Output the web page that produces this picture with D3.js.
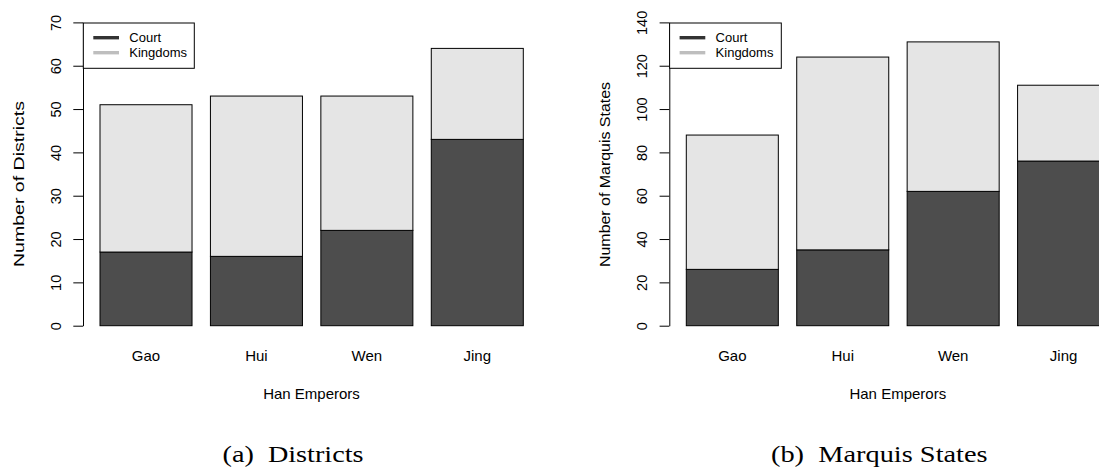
<!DOCTYPE html>
<html>
<head>
<meta charset="utf-8">
<script src="https://cdn.jsdelivr.net/npm/d3@7"></script>
<style>
  html, body { margin: 0; padding: 0; background: #fff; }
  svg { display: block; }
</style>
</head>
<body>
<script>
const emperors = ['Gao', 'Hui', 'Wen', 'Jing'];
const seriesKeys = ['court', 'kingdoms'];
const legendLabels = ['Court', 'Kingdoms'];

const districtsCourt = [17, 16, 22, 43];
const districtsKingdoms = [34, 37, 31, 21];
const districtTicks = [0, 10, 20, 30, 40, 50, 60, 70];

const marquisCourt = [26, 35, 62, 76];
const marquisKingdoms = [62, 89, 69, 35];
const marquisTicks = [0, 20, 40, 60, 80, 100, 120, 140];

const W = 1099, H = 467;
const fills = ['#4d4d4d', '#e5e5e5'];
const legendColors = ['#333333', '#bebebe'];
const sans = 'Liberation Sans, Arial, Helvetica, sans-serif';
const serif = 'Liberation Serif, Times New Roman, serif';

const dims = { plotW: 457, top: 22.4, base: 325.7 };

const svg = d3.select('body').append('svg')
  .attr('width', W)
  .attr('height', H)
  .attr('viewBox', [0, 0, W, H]);

svg.append('rect').attr('width', W).attr('height', H).attr('fill', '#fff');

function drawPanel(cfg) {
  const g = svg.append('g').attr('transform', `translate(${cfg.left},0)`);

  const x = d3.scaleBand()
    .domain(emperors)
    .range([17, 440.3])
    .paddingInner(1 / 6)
    .paddingOuter(0);

  const y = d3.scaleLinear()
    .domain([0, d3.max(cfg.ticks)])
    .range([dims.base, dims.top]);

  const rows = emperors.map((e, i) => ({ emperor: e, court: cfg.court[i], kingdoms: cfg.kingdoms[i] }));
  const stacked = d3.stack().keys(seriesKeys)(rows);

  g.selectAll('g.layer')
    .data(stacked)
    .join('g')
      .attr('class', 'layer')
      .attr('fill', (d, i) => fills[i])
    .selectAll('rect')
    .data(d => d)
    .join('rect')
      .attr('x', d => x(d.data.emperor))
      .attr('y', d => y(d[1]))
      .attr('width', x.bandwidth())
      .attr('height', d => y(d[0]) - y(d[1]))
      .attr('stroke', '#000')
      .attr('stroke-width', 1);

  // y axis, R style with rotated labels
  g.append('g')
    .call(d3.axisLeft(y).tickValues(cfg.ticks).tickSize(9.7).tickSizeOuter(0))
    .attr('font-family', sans)
    .attr('font-size', 14.5)
    .call(a => {
      a.select('.domain').attr('stroke', '#000');
      a.selectAll('.tick line').attr('stroke', '#000');
      a.selectAll('.tick text')
        .attr('x', 0)
        .attr('y', -22)
        .attr('dy', 0)
        .attr('fill', '#000')
        .attr('text-anchor', 'middle')
        .attr('transform', 'rotate(-90)');
    });

  // category names under bars
  g.append('g')
    .attr('transform', `translate(0,${dims.base})`)
    .call(d3.axisBottom(x).tickSize(0))
    .attr('font-family', sans)
    .attr('font-size', 15)
    .call(a => {
      a.select('.domain').remove();
      a.selectAll('.tick text').attr('y', 35.3).attr('dy', 0).attr('fill', '#000');
    });

  g.append('text')
    .attr('x', dims.plotW / 2)
    .attr('y', 399)
    .attr('text-anchor', 'middle')
    .attr('font-family', sans)
    .attr('font-size', 15)
    .text('Han Emperors');

  g.append('text')
    .attr('transform', `translate(-59.5,267) rotate(-90)`)
    .attr('text-anchor', 'start')
    .attr('font-family', sans)
    .attr('font-size', 15.5)
    .attr('textLength', cfg.titleLen)
    .attr('lengthAdjust', 'spacingAndGlyphs')
    .text(cfg.ylab);

  // legend, top left of plot region
  const lg = g.append('g').attr('transform', `translate(0.3,${dims.top + 0.6})`);
  lg.append('rect')
    .attr('width', cfg.legendW)
    .attr('height', 45.3)
    .attr('fill', '#fff')
    .attr('stroke', '#000');
  const item = lg.selectAll('g.item')
    .data(legendLabels)
    .join('g')
      .attr('class', 'item')
      .attr('transform', (d, i) => `translate(0,${14.7 + i * 15})`);
  item.append('line')
    .attr('x1', 10).attr('x2', 35.7)
    .attr('stroke', (d, i) => legendColors[i])
    .attr('stroke-width', 3.4);
  item.append('text')
    .attr('x', 46)
    .attr('dy', '0.36em')
    .attr('font-family', sans)
    .attr('font-size', 13)
    .text(d => d);

  // sub-caption
  g.append('text')
    .attr('x', 210)
    .attr('y', 462)
    .attr('text-anchor', 'middle')
    .attr('font-family', serif)
    .attr('font-size', 23)
    .attr('textLength', cfg.capLen)
    .attr('lengthAdjust', 'spacingAndGlyphs')
    .style('white-space', 'pre')
    .text(cfg.caption);
}

drawPanel({
  left: 83,
  court: districtsCourt,
  kingdoms: districtsKingdoms,
  ticks: districtTicks,
  ylab: 'Number of Districts',
  titleLen: 166,
  legendW: 111,
  caption: '(a)  Districts',
  capLen: 141
});

drawPanel({
  left: 669.3,
  court: marquisCourt,
  kingdoms: marquisKingdoms,
  ticks: marquisTicks,
  ylab: 'Number of Marquis States',
  titleLen: 185,
  legendW: 111.7,
  caption: '(b)  Marquis States',
  capLen: 216.7
});
</script>
</body>
</html>
